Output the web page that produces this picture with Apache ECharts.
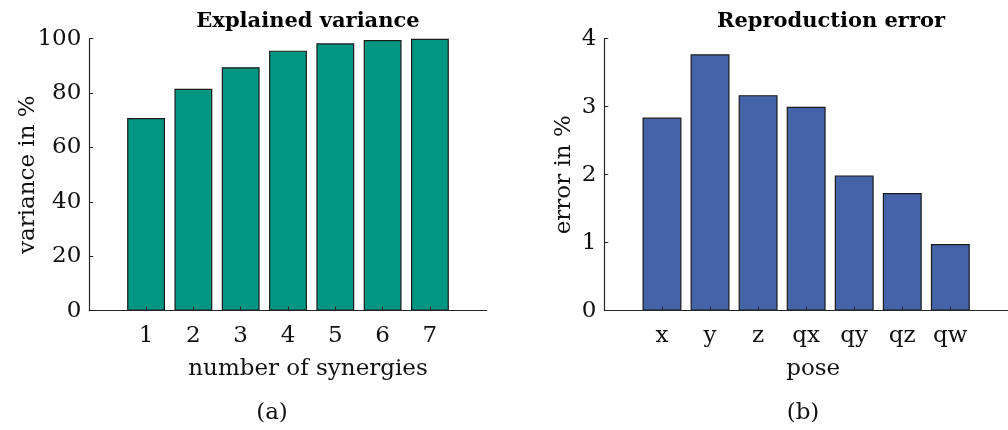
<!DOCTYPE html>
<html>
<head>
<meta charset="utf-8">
<script src="https://cdn.jsdelivr.net/npm/echarts@6/dist/echarts.min.js"></script>
<style>html,body{margin:0;padding:0;background:#fff}#c{width:1008px;height:430px}</style>
</head>
<body>
<div id="c"></div>
<script>
var synergyLabels = ['1','2','3','4','5','6','7'];
var varianceValues = [70.8, 81.6, 89.5, 95.6, 98.3, 99.5, 100];
var poseLabels = ['x','y','z','qx','qy','qz','qw'];
var errorValues = [2.84, 3.77, 3.17, 3.00, 1.99, 1.73, 0.98];
var varianceTicks = [0, 20, 40, 60, 80, 100];
var errorTicks = [0, 1, 2, 3, 4];

var FONT = 'DejaVu Serif';
var AX = '#262626';
var TXT = '#111';

function pos(labels){ return labels.map(function(_, i){ return i + 1; }); }
function pairs(vals){ return vals.map(function(v, i){ return [i + 1, v]; }); }

function xAxisFor(gi, labels, name, namePad){
  return {
    type: 'value', gridIndex: gi, min: -0.2, max: 8.2, z: 10,
    axisLine: {show: true, onZero: false, lineStyle: {color: AX, width: 1.2}},
    axisTick: {show: true, inside: true, length: 4, customValues: pos(labels), lineStyle: {color: AX}},
    axisLabel: {show: true, customValues: pos(labels), margin: 14, color: TXT, fontFamily: FONT, fontSize: 23,
      formatter: function(v){ return labels[Math.round(v) - 1] || ''; }},
    splitLine: {show: false},
    name: name, nameLocation: 'middle', nameGap: 47, nameMoveOverlap: false,
    nameTextStyle: {color: TXT, fontFamily: FONT, fontSize: 23, padding: namePad}
  };
}
function yAxisFor(gi, ticks, name, gap){
  return {
    type: 'value', gridIndex: gi, min: ticks[0], max: ticks[ticks.length-1], interval: ticks[1]-ticks[0], z: 10,
    axisLine: {show: true, onZero: false, lineStyle: {color: AX, width: 1.2}},
    axisTick: {show: true, inside: true, length: 4, lineStyle: {color: AX}},
    axisLabel: {margin: 8, color: TXT, fontFamily: FONT, fontSize: 23},
    splitLine: {show: false},
    name: name, nameLocation: 'middle', nameGap: gap, nameRotate: 90, nameMoveOverlap: false,
    nameTextStyle: {color: TXT, fontFamily: FONT, fontSize: 23}
  };
}

var chart = echarts.init(document.getElementById('c'), null, {renderer: 'canvas'});
chart.setOption({
  animation: false,
  backgroundColor: '#fff',
  title: [
    {text: 'Explained variance', left: 303, top: 6, textAlign: 'center', textStyle: {fontFamily: FONT, fontSize: 21, fontWeight: 'bold', color: '#000'}},
    {text: 'Reproduction error', left: 826, top: 6, textAlign: 'center', textStyle: {fontFamily: FONT, fontSize: 21, fontWeight: 'bold', color: '#000'}},
    {text: '(a)', left: 267, top: 397, textAlign: 'center', textStyle: {fontFamily: FONT, fontSize: 23, fontWeight: 'normal', color: TXT}},
    {text: '(b)', left: 798, top: 397, textAlign: 'center', textStyle: {fontFamily: FONT, fontSize: 23, fontWeight: 'normal', color: TXT}}
  ],
  grid: [
    {left: 89.3, top: 38.7, width: 397.4, height: 272},
    {left: 604.3, top: 38.7, width: 412.4, height: 272}
  ],
  xAxis: [
    xAxisFor(0, synergyLabels, 'number of synergies', [0, 0, 0, 40]),
    xAxisFor(1, poseLabels, 'pose', [0, 0, 0, 14])
  ],
  yAxis: [
    yAxisFor(0, varianceTicks, 'variance in %', 50),
    yAxisFor(1, errorTicks, 'error in %', 29)
  ],
  series: [
    {type: 'bar', xAxisIndex: 0, yAxisIndex: 0, data: pairs(varianceValues), barWidth: '80%',
     itemStyle: {color: '#009681', borderColor: '#1a1a1a', borderWidth: 1.2}},
    {type: 'bar', xAxisIndex: 1, yAxisIndex: 1, data: pairs(errorValues), barWidth: '81%',
     itemStyle: {color: '#4563A9', borderColor: '#1a1a1a', borderWidth: 1.2}}
  ]
});
</script>
</body>
</html>
